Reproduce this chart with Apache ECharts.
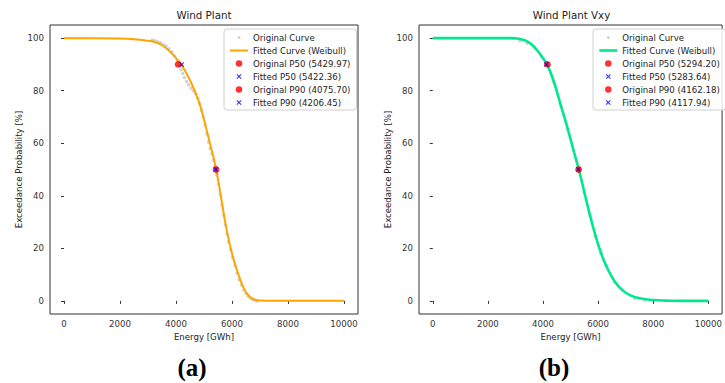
<!DOCTYPE html>
<html>
<head>
<meta charset="utf-8">
<script src="https://cdn.jsdelivr.net/npm/echarts@6/dist/echarts.min.js"></script>
<style>
html,body{margin:0;padding:0;background:#fff;}
#c{width:725px;height:383px;}
</style>
</head>
<body>
<div id="c"></div>
<script>
// ---------- data ----------
const xTicks = [0, 2000, 4000, 6000, 8000, 10000];
const yTicks = [0, 20, 40, 60, 80, 100];
const pLevels = [50, 90];

// panel (a) Wind Plant
const fitEnergyA = [0, 1000, 2000, 2500, 3000, 3200, 3500, 3800, 4000, 4200, 4500, 4800, 5000, 5200, 5400, 5600, 5800, 6000, 6200, 6400, 6600, 6800, 7000, 7500, 8000, 9000, 10000];
const fitProbA   = [100, 100, 99.9, 99.6, 99.0, 98.6, 97.3, 94.7, 92.4, 89.8, 84.0, 76.3, 68.9, 60.4, 51.8, 40.0, 27.5, 18.0, 11.0, 5.3, 1.9, 0.5, 0.1, 0, 0, 0, 0];
const origEnergyA = [3150, 3250, 3350, 3450, 3550, 3650, 3750, 3850, 3950, 4050, 4120, 4180, 4240, 4300, 4380, 4450, 4530, 4610, 4700, 4780, 4850, 4920, 4980, 5040, 5100, 5160, 5220, 5280, 5340, 5400, 5460, 5520, 5580, 5640, 5700, 5760, 5820, 5880, 5950, 6020, 6100, 6180, 6260, 6340, 6420, 6500, 6580, 6660, 6740, 6820, 6900];
const origProbA   = [99.3, 99.0, 98.6, 98.2, 97.6, 97.0, 96.0, 94.8, 93.2, 91.3, 89.5, 88.0, 86.5, 85.0, 83.5, 82.3, 81.0, 80.0, 78.8, 77.2, 75.0, 72.5, 70.0, 67.0, 63.5, 60.5, 58.0, 56.0, 53.5, 51.0, 48.0, 44.5, 40.5, 36.5, 32.5, 29.0, 25.5, 22.5, 19.5, 16.5, 13.5, 10.5, 8.0, 6.0, 4.2, 2.8, 1.8, 1.0, 0.5, 0.2, 0];
const p50OrigA = 5429.97, p50FitA = 5422.36, p90OrigA = 4075.70, p90FitA = 4206.45;

// panel (b) Wind Plant Vxy
const fitEnergyB = [0, 1000, 2000, 2800, 3000, 3200, 3400, 3600, 3800, 4000, 4150, 4400, 4650, 4900, 5100, 5300, 5500, 5700, 5900, 6100, 6300, 6600, 6900, 7200, 7500, 8000, 8500, 9000, 10000];
const fitProbB   = [100, 100, 100, 100, 99.9, 99.6, 98.9, 97.5, 95.2, 92.3, 90.0, 83.2, 74.3, 65.4, 57.6, 50.0, 41.4, 32.8, 25.0, 18.4, 13.2, 7.4, 3.9, 2.0, 1.0, 0.3, 0.1, 0, 0];
const origEnergyB = [3160, 3430, 3700, 3950, 4160, 4400, 4650, 4900, 5100, 5300, 5500, 5700, 5900, 6100, 6300, 6600, 6900, 7320, 7680];
const origProbB   = [99.1, 98.1, 96.4, 93.2, 89.8, 83.2, 74.3, 65.4, 57.4, 50.0, 41.2, 32.5, 24.6, 18.2, 13.4, 7.2, 4.0, 1.0, 0.3];
const p50OrigB = 5294.20, p50FitB = 5283.64, p90OrigB = 4162.18, p90FitB = 4117.94;

const titles = ['Wind Plant', 'Wind Plant Vxy'];
const panelLabels = ['(a)', '(b)'];
const fitColors = ['#ffa500', '#00e88c'];

// ---------- chart ----------
const FONT = 'DejaVu Sans';
const FS = 8.6;
const GRAY_DOT = 'path://M0,0M20,20M7,10A3,3,0,1,1,13,10A3,3,0,1,1,7,10Z';
const RED_DOT = 'path://M0,0M20,20M3.5,10A6.5,6.5,0,1,1,16.5,10A6.5,6.5,0,1,1,3.5,10Z';
const XMARK = 'path://M0,0M20,20M5,6.5L6.5,5L10,8.5L13.5,5L15,6.5L11.5,10L15,13.5L13.5,15L10,11.5L6.5,15L5,13.5L8.5,10Z';
const NONE = 'rgba(0,0,0,0)';

const zip = (a, b) => a.map((v, i) => [v, b[i]]);

const panels = [
  {grid: {left: 50, top: 25, width: 308, height: 289}, legendLeft: 224, center: 204, labelX: 192,
   fitE: fitEnergyA, fitP: fitProbA, origE: origEnergyA, origP: origProbA,
   p50o: p50OrigA, p50f: p50FitA, p90o: p90OrigA, p90f: p90FitA},
  {grid: {left: 419, top: 25, width: 305, height: 289}, legendLeft: 593, center: 571.5, labelX: 554,
   fitE: fitEnergyB, fitP: fitProbB, origE: origEnergyB, origP: origProbB,
   p50o: p50OrigB, p50f: p50FitB, p90o: p90OrigB, p90f: p90FitB}
];

const option = {
  animation: false,
  backgroundColor: '#fff',
  textStyle: {fontFamily: FONT},
  title: [], grid: [], xAxis: [], yAxis: [], series: [], legend: []
};

panels.forEach((p, k) => {
  const lw = k === 0 ? 2 : 2.6;
  option.grid.push(Object.assign({show: true, borderColor: '#333', borderWidth: 1, backgroundColor: 'transparent'}, p.grid));
  option.title.push({text: titles[k], left: p.center, top: 10, textAlign: 'center', padding: 0,
    textStyle: {fontFamily: FONT, fontSize: 10.3, fontWeight: 'normal', color: '#222'}});
  option.title.push({text: panelLabels[k], left: p.labelX, top: 355, textAlign: 'center', padding: 0,
    textStyle: {fontFamily: 'Liberation Serif', fontSize: 25, fontWeight: 'bold', color: '#000'}});
  option.xAxis.push({
    gridIndex: k, type: 'value', min: -500, max: 10500,
    name: 'Energy [GWh]', nameLocation: 'middle', nameGap: 17,
    nameTextStyle: {fontFamily: FONT, fontSize: FS, color: '#222'},
    axisLine: {show: false}, splitLine: {show: false},
    axisTick: {show: true, length: 3, customValues: xTicks, lineStyle: {color: '#333'}},
    axisLabel: {customValues: xTicks, formatter: v => String(v), fontFamily: FONT, fontSize: FS, color: '#333', margin: 5}
  });
  option.yAxis.push({
    gridIndex: k, type: 'value', min: -5, max: 105,
    name: 'Exceedance Probability [%]', nameLocation: 'middle', nameGap: 27,
    nameTextStyle: {fontFamily: FONT, fontSize: FS, color: '#222'},
    axisLine: {show: false}, splitLine: {show: false},
    axisTick: {show: true, length: 3, customValues: yTicks, lineStyle: {color: '#333'}},
    axisLabel: {customValues: yTicks, formatter: v => String(v), fontFamily: FONT, fontSize: FS, color: '#333', margin: 6}
  });
  const names = [
    'Original Curve',
    'Fitted Curve (Weibull)',
    'Original P50 (' + p.p50o.toFixed(2) + ')',
    'Fitted P50 (' + p.p50f.toFixed(2) + ')',
    'Original P90 (' + p.p90o.toFixed(2) + ')',
    'Fitted P90 (' + p.p90f.toFixed(2) + ')'
  ];
  option.series.push(
    {type: 'scatter', name: names[0], xAxisIndex: k, yAxisIndex: k, data: zip(p.origE, p.origP),
     symbol: 'circle', symbolSize: 3.5, itemStyle: {color: '#c8c8c8'}, z: 1, silent: true},
    {type: 'line', name: names[1], xAxisIndex: k, yAxisIndex: k, data: zip(p.fitE, p.fitP),
     showSymbol: false, symbol: 'none', smooth: 0.5,
     lineStyle: {color: fitColors[k], width: lw}, itemStyle: {color: fitColors[k]}, z: 2},
    {type: 'scatter', name: names[2], xAxisIndex: k, yAxisIndex: k, data: [[p.p50o, pLevels[0]]],
     symbol: 'circle', symbolSize: 6.8, itemStyle: {color: '#ff0000'}, z: 3},
    {type: 'scatter', name: names[3], xAxisIndex: k, yAxisIndex: k, data: [[p.p50f, pLevels[0]]],
     symbol: XMARK, symbolSize: 10, itemStyle: {color: '#0000ff'}, z: 4},
    {type: 'scatter', name: names[4], xAxisIndex: k, yAxisIndex: k, data: [[p.p90o, pLevels[1]]],
     symbol: 'circle', symbolSize: 6.8, itemStyle: {color: '#ff0000'}, z: 3},
    {type: 'scatter', name: names[5], xAxisIndex: k, yAxisIndex: k, data: [[p.p90f, pLevels[1]]],
     symbol: XMARK, symbolSize: 10, itemStyle: {color: '#0000ff'}, z: 4}
  );
  option.legend.push({
    orient: 'vertical', left: p.legendLeft, top: 29,
    padding: [2, 6, 1, 5], itemGap: 0, itemWidth: 18, itemHeight: 10,
    backgroundColor: 'rgba(255,255,255,0.85)', borderColor: '#d0d0d0', borderWidth: 1, borderRadius: 3,
    selectedMode: false,
    textStyle: {fontFamily: FONT, fontSize: FS, color: '#222', lineHeight: 13},
    data: [
      {name: names[0], icon: GRAY_DOT, itemStyle: {color: '#c8c8c8'}},
      {name: names[1], itemStyle: {color: NONE, borderColor: NONE, borderWidth: 0},
       lineStyle: {color: fitColors[k], width: lw}},
      {name: names[2], icon: RED_DOT, itemStyle: {color: '#ff0000'}},
      {name: names[3], icon: XMARK, itemStyle: {color: '#0000ff'}},
      {name: names[4], icon: RED_DOT, itemStyle: {color: '#ff0000'}},
      {name: names[5], icon: XMARK, itemStyle: {color: '#0000ff'}}
    ]
  });
});

const chart = echarts.init(document.getElementById('c'), null, {renderer: 'svg'});
chart.setOption(option);
</script>
</body>
</html>
